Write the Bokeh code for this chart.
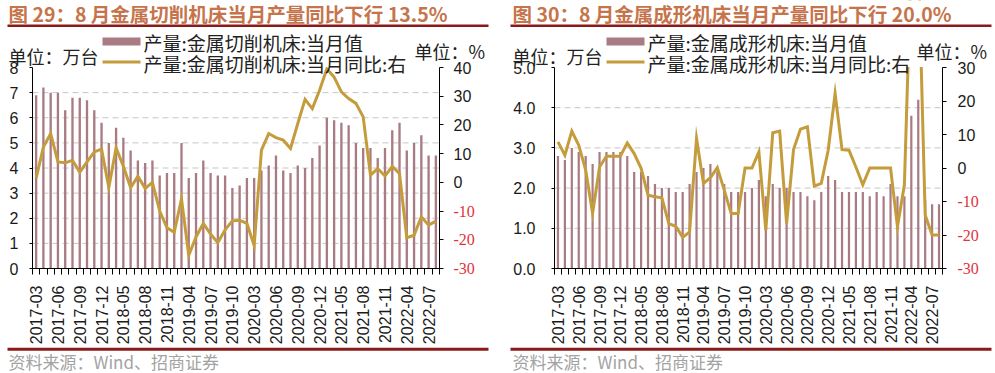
import math
from bokeh.plotting import figure
from bokeh.models import (Range1d, LinearAxis, FixedTicker, Label, LabelSet, ColumnDataSource,
                          BoxAnnotation, NumeralTickFormatter)
from bokeh.layouts import row
from bokeh.embed import file_html
from bokeh.resources import INLINE

# ---------------- data ----------------
months = [
    "2017-03", "2017-04", "2017-05", "2017-06", "2017-07", "2017-08", "2017-09", "2017-10", "2017-11", "2017-12",
    "2018-03", "2018-04", "2018-05", "2018-06", "2018-07", "2018-08", "2018-09", "2018-10", "2018-11", "2018-12",
    "2019-03", "2019-04", "2019-05", "2019-06", "2019-07", "2019-08", "2019-09", "2019-10", "2019-11", "2019-12",
    "2020-03", "2020-04", "2020-05", "2020-06", "2020-07", "2020-08", "2020-09", "2020-10", "2020-11", "2020-12",
    "2021-03", "2021-04", "2021-05", "2021-06", "2021-07", "2021-08", "2021-09", "2021-10", "2021-11", "2021-12",
    "2022-03", "2022-04", "2022-05", "2022-06", "2022-07", "2022-08",
]

# 金属切削机床 当月值 (万台)
cut_value = [6.9, 7.2, 7.0, 7.0, 6.3, 6.8, 6.8, 6.7, 6.3, 5.8,
             5.0, 5.6, 5.2, 4.7, 4.3, 4.2, 4.3, 3.7, 3.8, 3.8,
             5.0, 3.6, 3.8, 4.3, 3.8, 3.7, 3.7, 3.2, 3.3, 3.6,
             3.6, 3.9, 4.1, 4.5, 3.9, 3.8, 4.1, 4.0, 4.4, 4.9,
             6.0, 5.9, 5.8, 5.7, 5.0, 4.8, 4.8, 4.4, 4.8, 5.5,
             5.8, 4.7, 5.0, 5.3, 4.5, 4.5]
# 金属切削机床 当月同比 (%)
cut_yoy = [1.5, 12.3, 17.0, 7.1, 6.8, 7.7, 3.5, 7.1, 10.6, 11.6,
           -1.8, 12.0, 5.6, -1.8, 2.1, -2.1, 0.0, -10.0, -15.8, -17.4,
           -5.8, -25.4, -19.0, -14.3, -18.0, -21.0, -16.5, -13.4, -13.2, -14.3,
           -22.0, 11.2, 17.0, 15.6, 14.7, 11.8, 20.5, 28.9, 25.7, 32.1,
           39.5, 36.7, 31.5, 29.2, 27.5, 22.8, 2.5, 4.8, 2.2, 5.6,
           3.0, -19.3, -18.4, -12.0, -14.9, -13.5]

# 金属成形机床 当月值 (万台)
form_value = [2.8, 2.7, 3.0, 2.9, 2.8, 2.6, 2.9, 2.9, 2.9, 2.9,
              2.8, 2.4, 2.4, 2.3, 2.1, 2.0, 2.0, 1.9, 1.9, 2.1,
              2.4, 2.5, 2.6, 2.4, 2.1, 1.9, 1.9, 1.9, 2.0, 2.2,
              1.8, 2.1, 2.0, 2.0, 1.9, 1.9, 1.8, 1.7, 1.9, 2.3,
              2.2, 1.9, 1.9, 1.9, 1.9, 1.8, 1.9, 1.8, 2.1, 1.8,
              1.8, 3.8, 4.2, 1.7, 1.6, 1.6]
# 金属成形机床 当月同比 (%)
form_yoy = [7.8, 3.8, 11.0, 6.8, -0.6, -13.5, 0.3, 3.5, 3.5, 3.5,
            7.5, 4.3, -0.1, -8.1, -8.6, -8.9, -16.6, -17.4, -20.7, -19.1,
            8.8, -4.6, -2.9, 0.1, -6.6, -13.6, -13.6, 0.0, 0.0, 4.8,
            -18.6, 10.5, 11.0, -16.6, 5.5, 11.6, 12.3, -5.4, -4.6, 5.3,
            22.2, 5.5, 5.3, 0.3, -5.0, 0.0, 0.0, 0.0, 0.0, -17.5,
            -5.0, 63.0, 64.0, -14.0, -20.0, -20.0]

cut_left_ticks = [0, 1, 2, 3, 4, 5, 6, 7, 8]
cut_right_ticks = [-30, -20, -10, 0, 10, 20, 30, 40]
form_left_ticks = [0, 1, 2, 3, 4, 5]
form_right_ticks = [-30, -20, -10, 0, 10, 20, 30]

titles = ["图 29：8 月金属切削机床当月产量同比下行 13.5%",
          "图 30：8 月金属成形机床当月产量同比下行 20.0%"]
bar_names = ["产量:金属切削机床:当月值", "产量:金属成形机床:当月值"]
line_names = ["产量:金属切削机床:当月同比:右", "产量:金属成形机床:当月同比:右"]
unit_left = "单位：万台"
unit_right = "单位：%"
source_text = "资料来源：Wind、招商证券"

# ---------------- style / geometry (pixels) ----------------
BAR = "#a97b83"
LINE = "#c49c3c"
TITLE = "#c6744b"
RULE = "#8a1a1a"
NEG = "#e0323c"
TXT = "#1a1a1a"
CJK = "Noto Sans CJK SC"
NUM = "Liberation Sans"
H = 373                  # canvas height
PLOT_TOP = H - 67        # plot area top, px from canvas bottom
PLOT_BOT = H - 268       # plot area bottom, px from canvas bottom


def px_range(lo, hi, p0, p1, total):
    s = (hi - lo) / (p1 - p0)
    return Range1d(lo - p0 * s, hi + (total - p1) * s)


def make_panel(idx, values, yoy, left_ticks, right_ticks, left_fmt,
               W, ox, pl, pr, l_standoff, r_standoff, lay):
    n = len(months)
    xs = list(range(n))
    x0, x1 = -0.5, n - 0.5
    src = ColumnDataSource(dict(x=xs, month=months, value=values, yoy=yoy))
    p = figure(width=W, height=H, min_border=0,
               x_range=px_range(x0, x1, pl, pr, W),
               y_range=px_range(left_ticks[0], left_ticks[-1], PLOT_BOT, PLOT_TOP, H),
               output_backend="svg", toolbar_location=None, tools="")
    p.extra_y_ranges = {"yoy": px_range(right_ticks[0], right_ticks[-1], PLOT_BOT, PLOT_TOP, H)}
    p.outline_line_color = None
    p.xgrid.visible = False
    p.ygrid.visible = False
    p.xaxis.visible = False
    p.yaxis.visible = False

    # dashed horizontal grid lines inside the plot area
    g = left_ticks[1:-1]
    p.segment(x0=[x0] * len(g), x1=[x1] * len(g), y0=g, y1=g,
              line_color="#c6c6c6", line_dash="6 4", line_width=1)

    p.vbar(x="x", top="value", width=0.32, source=src,
           fill_color=BAR, line_color=None)
    p.line(x="x", y="yoy", source=src, y_range_name="yoy",
           line_color=LINE, line_width=3, line_join="miter")

    # x axis
    xa = LinearAxis(fixed_location=left_ticks[0], bounds=(x0, x1),
                    ticker=FixedTicker(ticks=xs[::3], minor_ticks=[i - 0.5 for i in range(n + 1)]))
    xa.major_label_overrides = {i: months[i] for i in xs[::3]}
    xa.major_label_orientation = math.pi / 2
    xa.major_tick_out = 0
    xa.major_tick_in = 0
    xa.minor_tick_out = 6
    xa.minor_tick_in = 0
    xa.minor_tick_line_color = "black"
    xa.major_label_standoff = 11
    xa.major_label_text_font = NUM
    xa.major_label_text_font_size = "16px"
    xa.major_label_text_color = TXT
    xa.axis_line_color = "black"
    p.add_layout(xa, "below")

    # left axis
    ya = LinearAxis(fixed_location=x0, bounds=(left_ticks[0], left_ticks[-1]),
                    ticker=FixedTicker(ticks=left_ticks),
                    formatter=NumeralTickFormatter(format=left_fmt))
    ya.major_tick_out = 3
    ya.major_tick_in = 0
    ya.minor_tick_out = 0
    ya.minor_tick_in = 0
    ya.major_label_standoff = l_standoff
    ya.major_label_text_font = NUM
    ya.major_label_text_font_size = "16px"
    ya.major_label_text_color = TXT
    ya.axis_line_color = "black"
    p.add_layout(ya, "left")

    # right axis (negative labels drawn in red separately)
    ra = LinearAxis(y_range_name="yoy", fixed_location=x1,
                    bounds=(right_ticks[0], right_ticks[-1]),
                    ticker=FixedTicker(ticks=right_ticks))
    ra.major_label_overrides = {t: "" for t in right_ticks if t < 0}
    ra.major_tick_out = 4
    ra.major_tick_in = 0
    ra.minor_tick_out = 0
    ra.minor_tick_in = 0
    ra.major_label_standoff = r_standoff
    ra.major_label_text_font = NUM
    ra.major_label_text_font_size = "16px"
    ra.major_label_text_color = TXT
    ra.axis_line_color = "black"
    p.add_layout(ra, "right")

    neg = [t for t in right_ticks if t < 0]
    neg_src = ColumnDataSource(dict(x=[x1] * len(neg), y=neg, t=[str(t) for t in neg]))
    p.add_layout(LabelSet(x="x", y="y", text="t", source=neg_src, x_offset=4 + r_standoff,
                          y_range_name="yoy", text_font=NUM, text_font_size="16px",
                          text_color=NEG, text_baseline="middle", text_align="left"))

    def box(xa_, xb_, ya_, yb_, color):
        # page pixel box -> screen units (y up from bottom)
        p.add_layout(BoxAnnotation(left=xa_ - ox, right=xb_ - ox, top=H - ya_, bottom=H - yb_,
                                   left_units="screen", right_units="screen",
                                   top_units="screen", bottom_units="screen",
                                   fill_color=color, fill_alpha=1, line_color=None))

    def lab(xr, yr, text, size, color="#222222", style="normal", font=CJK):
        p.add_layout(Label(x=xr - ox, y=H - yr, x_units="screen", y_units="screen", text=text,
                           text_font=font, text_font_size=size, text_color=color,
                           text_font_style=style, text_baseline="middle"))

    # mask the part of the plot area above the top of the axes
    box(ox + pl + 0.6, ox + pr, 0, 66.5, "white")

    # title, rules, units, source
    lab(lay["title_x"], 12.5, titles[idx], "19.5px", TITLE, "bold")
    box(lay["rule_x0"], lay["rule_x1"], 24, 26.5, RULE)
    lab(lay["unit_l_x"], 55.5, unit_left, "18px")
    lab(lay["unit_r_x"], 50, unit_right, "18px")
    box(lay["rule_x0"], lay["rule_x1"], 347.3, 350.3, RULE)
    lab(lay["title_x"], 361, source_text, "17px", "#a3a3a3")

    # legend
    sx = lay["leg_x"]
    box(sx, sx + 38, 37, 45, BAR)
    lab(sx + 41, 41.5, bar_names[idx], "19px")
    box(sx, sx + 38, 60, 63, LINE)
    lab(sx + 41, 62.5, line_names[idx], "19px")
    return p


p1 = make_panel(0, cut_value, cut_yoy, cut_left_ticks, cut_right_ticks, "0",
                W=500, ox=0, pl=32, pr=439, l_standoff=11, r_standoff=10,
                lay=dict(title_x=8, rule_x0=7, rule_x1=488, unit_l_x=8, unit_r_x=414, leg_x=102))
p2 = make_panel(1, form_value, form_yoy, form_left_ticks, form_right_ticks, "0.0",
                W=495, ox=500, pl=54, pr=442, l_standoff=16, r_standoff=11,
                lay=dict(title_x=512, rule_x0=510, rule_x1=991, unit_l_x=512, unit_r_x=916, leg_x=606))

layout = row(p1, p2)
open("out.html", "w").write(file_html(layout, INLINE))
